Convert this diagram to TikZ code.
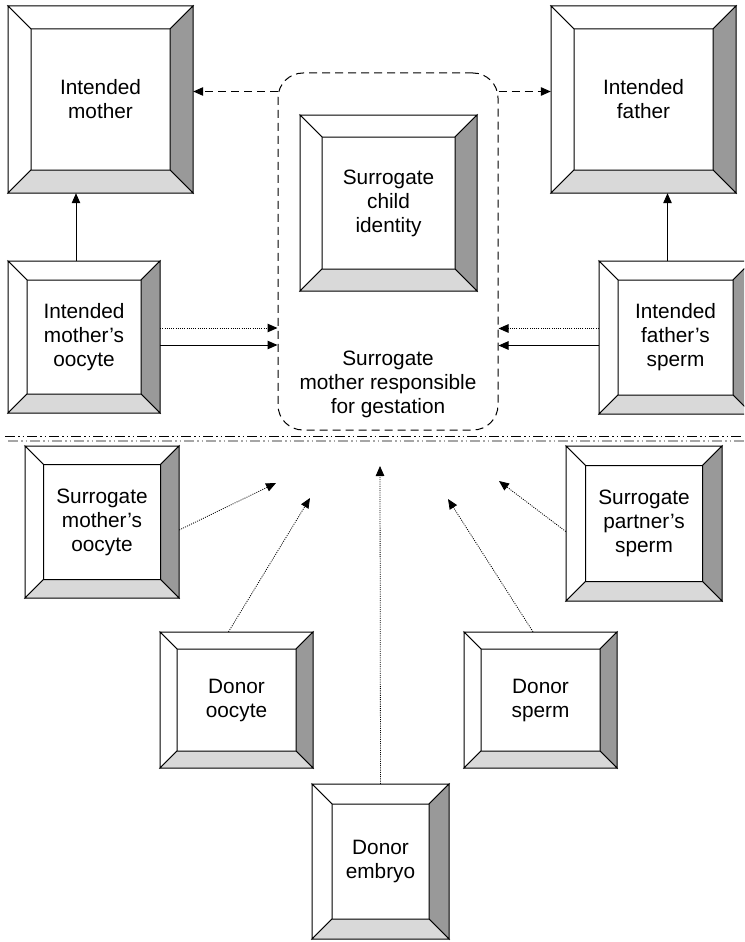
\documentclass[tikz,border=0pt]{standalone}
\usepackage{fontspec}
\setmainfont{Liberation Sans}
\usetikzlibrary{arrows.meta}

\definecolor{bevelright}{gray}{0.6}
\definecolor{bevelbottom}{gray}{0.85}

\tikzset{
    boxtext/.style={align=center, inner sep=0pt, font=\fontsize{20.8}{24}\selectfont},
    tip/.style={-{Triangle[length=10pt, width=8.5pt]}},
    dots/.style={dash pattern=on 1pt off 1.2pt},
    brokenline/.style={dash pattern=on 8pt off 5pt},
    divider/.style={line width=1pt, dash pattern=on 10pt off 3pt on 1.5pt off 3pt on 1.5pt off 3pt}
}

\newcommand{\bevelbox}[7]{%
    \filldraw[fill=white, line width=1pt] (#2,#3) -- (#4,#3) -- (#4-#6,#3+#6) -- (#2+#6,#3+#6) -- cycle;
    \filldraw[fill=white, line width=1pt] (#2,#3) -- (#2+#6,#3+#6) -- (#2+#6,#5-#6) -- (#2,#5) -- cycle;
    \filldraw[fill=bevelright, line width=1pt] (#4,#3) -- (#4,#5) -- (#4-#6,#5-#6) -- (#4-#6,#3+#6) -- cycle;
    \filldraw[fill=bevelbottom, line width=1pt] (#2,#5) -- (#4,#5) -- (#4-#6,#5-#6) -- (#2+#6,#5-#6) -- cycle;
    \node[boxtext, minimum width={#4pt-#2pt}, minimum height={#5pt-#3pt}] (#1) at ({(#2+#4)/2},{(#3+#5)/2}) {#7};
}

\begin{document}
\begin{tikzpicture}[x=1pt, y=-1pt]
                \path[use as bounding box, clip] (0,0) rectangle (744,942);

                \node[draw, brokenline, rounded corners=25pt, line width=1pt, minimum width=220pt, minimum height=357pt] (gest) at (388,251.5) {};

                \node[boxtext] (gestlabel) at (388,384) {Surrogate\\mother responsible\\for gestation};

                \bevelbox{im}{8}{6}{193}{193}{23}{Intended\\mother}

                \bevelbox{if}{551}{6}{736}{193}{23}{Intended\\father}

                \bevelbox{sci}{300}{115}{477}{291}{22}{Surrogate\\child\\identity}

                \bevelbox{imo}{8}{261}{160}{413}{19}{Intended\\mother’s\\oocyte}

                \bevelbox{ifs}{599}{261}{752}{414}{19}{Intended\\father’s\\sperm}

                \bevelbox{smo}{25}{446}{179}{598}{18.5}{Surrogate\\mother’s\\oocyte}

                \bevelbox{sps}{566}{446}{722}{601}{19.5}{Surrogate\\partner’s\\sperm}

                \bevelbox{doo}{160}{632}{313}{768}{17}{Donor\\oocyte}

                \bevelbox{dsp}{464}{632}{617}{768}{17}{Donor\\sperm}

                \bevelbox{dem}{312}{784}{449}{939}{20}{Donor\\embryo}

                \draw[brokenline, tip, line width=1pt] ([yshift=-19pt]gest.north west) -- ([yshift=-19pt]gest.north west -| im.east);

                \draw[brokenline, tip, line width=1pt] ([yshift=-19pt]gest.north east) -- ([yshift=-19pt]gest.north east -| if.west);

                \draw[tip, line width=1pt] ([xshift=-8pt]imo.north) -- ([xshift=-8pt]imo.north |- im.south);

                \draw[tip, line width=1pt] ([xshift=-8pt]ifs.north) -- ([xshift=-8pt]ifs.north |- if.south);

                \draw[dots, tip, line width=1pt] ([yshift=9pt]imo.east) -- ([yshift=9pt]imo.east -| gest.west);

                \draw[tip, line width=1pt] ([yshift=-8pt]imo.east) -- ([yshift=-8pt]imo.east -| gest.west);

                \draw[dots, tip, line width=1pt] ([yshift=9pt]ifs.west) -- ([yshift=9pt]ifs.west -| gest.east);

                \draw[tip, line width=1pt] ([yshift=-8pt]ifs.west) -- ([yshift=-8pt]ifs.west -| gest.east);

                \draw[divider] (5,436) -- (744,436);

                \draw[divider, black!35, line width=1.3pt] (8,441) -- (744,441);

                \coordinate (smotip) at (276,483);

                \coordinate (dootip) at (310,498);

                \coordinate (demtip) at (380,466);

                \coordinate (dsptip) at (448,499);

                \coordinate (spstip) at (499,481);

                \draw[dots, tip, line width=0.8pt] ([yshift=-8pt]smo.east) -- (smotip);

                \draw[dots, tip, line width=0.8pt] ([xshift=-8pt]doo.north) -- (dootip);

                \draw[dots, tip, line width=0.8pt] (dem.north) -- (demtip);

                \draw[dots, tip, line width=0.8pt] ([xshift=-7.5pt]dsp.north) -- (dsptip);

                \draw[dots, tip, line width=0.8pt] ([yshift=-8pt]sps.west) -- (spstip);
            \end{tikzpicture}
\end{document}
